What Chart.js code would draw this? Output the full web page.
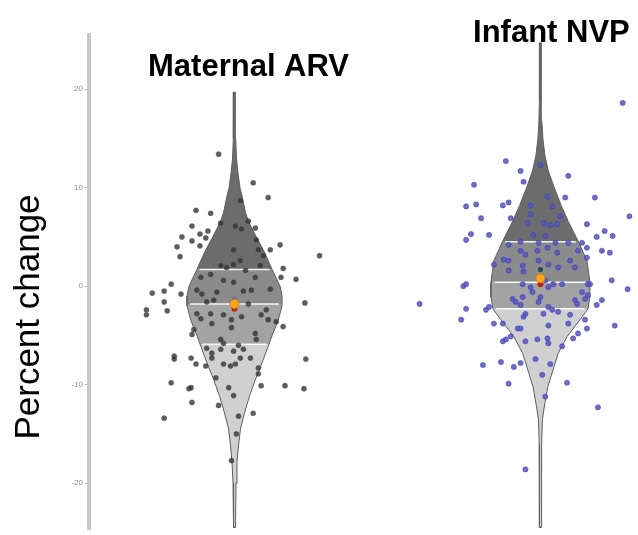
<!DOCTYPE html>
<html>
<head>
<meta charset="utf-8">
<script src="https://cdn.jsdelivr.net/npm/chart.js@4.4.1/dist/chart.umd.min.js"></script>
<style>
  html, body { margin: 0; padding: 0; background: #ffffff; }
  #wrap { width: 638px; height: 535px; position: relative; }
</style>
</head>
<body>
<div id="wrap"><canvas id="c" width="638" height="535"></canvas></div>
<script>
// ---------------- DATA ----------------
const categories = ['Maternal ARV', 'Infant NVP'];
const categoryPositions = [1, 2];
const yTicks = [20, 10, 0, -10, -20];
const yAxisTitle = 'Percent change';

// individual observations: jitter (x offset from category centre) and value
const maternalJitter = [
  -0.052,0.061,0.110,0.019,-0.126,-0.078,0.045,-0.045,-0.139,0.003,
  0.023,-0.087,-0.113,0.068,-0.172,-0.094,-0.139,0.071,-0.188,-0.113,
  0.149,0.117,-0.003,0.078,-0.178,0.278,0.019,-0.003,0.094,-0.045,
  -0.026,0.036,0.159,0.084,-0.110,-0.078,-0.036,-0.003,0.068,0.152,
  0.201,-0.207,-0.230,-0.269,-0.175,-0.123,-0.107,-0.058,0.029,0.117,
  0.055,-0.230,0.230,-0.068,-0.091,-0.288,-0.288,-0.220,-0.123,-0.110,
  -0.078,-0.074,-0.036,-0.010,0.023,0.045,0.087,0.104,0.110,0.136,
  0.159,-0.133,-0.139,-0.010,0.068,0.071,-0.045,-0.036,0.013,-0.091,
  -0.074,-0.045,-0.003,0.029,-0.197,-0.197,-0.142,-0.074,0.019,0.052,
  -0.126,-0.094,-0.036,-0.013,0.003,0.078,0.078,0.233,-0.061,-0.207,
  -0.149,-0.142,-0.019,0.087,0.165,0.227,-0.003,-0.139,-0.052,0.061,
  0.013,-0.230,0.006,-0.010
];
const maternalValues = [
  13.4,10.5,9.0,8.7,7.7,7.4,6.6,6.4,6.1,6.1,
  5.8,5.6,5.3,5.9,5.0,4.9,4.6,4.7,4.0,4.1,
  4.2,3.7,3.7,3.7,3.0,3.1,2.6,2.2,3.1,2.1,
  1.9,1.6,1.8,2.1,0.9,1.2,0.6,0.4,0.9,0.9,
  0.7,0.2,-0.5,-0.7,-0.8,-0.4,-0.8,-0.6,-0.5,-0.3,
  -0.4,-1.6,-1.7,-1.4,-1.6,-2.4,-2.9,-2.5,-2.8,-3.3,
  -2.8,-3.8,-2.9,-3.4,-3.1,-1.8,-2.9,-2.4,-3.4,-3.6,
  -4.1,-4.4,-4.9,-4.2,-4.8,-5.4,-5.4,-5.8,-6.0,-6.3,
  -6.8,-6.4,-6.6,-6.4,-7.1,-7.4,-7.3,-7.3,-7.3,-7.3,
  -7.9,-8.1,-7.9,-8.1,-7.9,-8.3,-8.9,-7.4,-9.3,-9.8,
  -10.4,-10.3,-10.3,-10.1,-10.1,-10.4,-11.1,-11.8,-12.1,-12.9,
  -13.2,-13.4,-15.0,-17.7
];
const infantJitter = [
  0.269,-0.113,-0.065,0.091,0.000,-0.055,-0.217,-0.243,-0.210,-0.123,
  -0.104,0.023,0.081,0.178,-0.032,0.039,0.291,-0.194,-0.097,-0.032,
  0.065,0.010,0.032,0.055,-0.042,0.152,-0.227,-0.243,-0.168,-0.023,
  0.016,0.210,0.236,0.184,-0.104,-0.065,-0.006,0.049,0.091,0.136,
  0.152,0.201,0.227,-0.065,-0.049,-0.010,0.023,0.055,0.123,0.152,
  -0.120,-0.104,-0.152,-0.058,-0.006,0.026,0.097,0.113,-0.104,-0.055,
  0.058,0.233,-0.252,-0.243,-0.058,0.016,0.042,0.155,-0.395,-0.243,
  -0.259,-0.178,-0.168,-0.091,-0.081,-0.058,-0.065,-0.032,-0.026,-0.006,
  0.000,0.026,0.026,0.039,0.058,0.071,-0.049,-0.055,0.010,0.097,
  0.091,0.113,0.120,0.136,0.146,0.162,0.155,0.184,0.201,
  0.285,0.146,0.152,0.123,0.107,0.243,-0.152,-0.123,-0.074,-0.065,
  0.026,-0.123,-0.113,-0.097,-0.049,-0.010,0.023,0.026,0.071,-0.188,
  -0.129,-0.087,-0.065,-0.016,0.032,0.006,-0.104,0.087,0.016,0.188,
  -0.049
];
const infantValues = [
  18.6,12.7,11.7,11.2,12.3,10.6,10.3,8.1,8.3,8.2,
  8.5,9.1,9.0,9.0,8.2,8.1,7.1,6.9,6.9,7.3,
  7.1,6.4,6.2,6.3,6.4,6.3,5.3,4.7,5.2,5.2,
  5.1,5.6,5.1,5.0,4.2,4.5,4.4,4.4,4.4,4.4,
  3.9,3.6,3.4,3.6,3.2,3.6,3.9,3.4,3.6,2.9,
  2.7,2.6,2.2,2.1,2.6,2.2,2.6,1.9,1.6,1.5,
  1.9,0.6,0.0,0.2,0.2,0.6,0.2,0.2,-1.8,-2.3,
  -3.4,-2.4,-2.1,-1.3,-1.6,-1.1,-1.9,-0.1,-0.6,-1.6,
  -1.1,-0.1,-2.1,-2.4,-2.6,0.2,-2.8,-3.1,-2.8,-2.9,
  -3.8,-1.4,-1.8,-0.6,-1.3,0.2,-0.9,-1.9,-1.4,
  -0.3,-3.4,-4.3,-4.8,-5.3,-4.0,-3.8,-3.8,-4.3,-4.3,
  -4.0,-5.6,-5.4,-5.1,-5.6,-5.4,-5.3,-5.8,-6.1,-8.0,
  -7.7,-8.2,-7.8,-7.4,-7.9,-9.0,-9.9,-9.8,-11.2,-12.3,
  -18.6
];

// violin density profiles (value levels and relative density)
const maternalDensityY = [19.7,15,13,11.5,10,9,7.5,6.6,5,3.5,1.7,0,-1,-2,-3.5,-5,-6.1,-8,-9.5,-11.2,-12.9,-14.5,-16.2,-17.9,-20,-24.5];
const maternalDensity  = [0.016,0.024,0.04,0.07,0.11,0.16,0.22,0.28,0.44,0.60,0.76,0.92,0.96,0.96,0.88,0.76,0.68,0.54,0.42,0.30,0.20,0.12,0.08,0.05,0.03,0.02];
const infantDensityY = [24.7,19,16.7,15,13.3,11.7,10,8.2,6.6,4.6,2.6,0.4,-1.1,-2.3,-3.4,-5.1,-6.8,-8.4,-10.2,-11.9,-13.5,-16,-24.5];
const infantDensity  = [0.016,0.02,0.03,0.05,0.09,0.16,0.28,0.42,0.56,0.76,0.94,1.0,1.0,0.96,0.80,0.54,0.36,0.26,0.15,0.09,0.04,0.024,0.02];

// quartiles [Q3, median, Q1] and means
const maternalQuartiles = [1.7, -1.8, -5.9];
const infantQuartiles = [4.5, 0.4, -2.3];
const groupMeans = [-1.8, 0.8];
const meanLower = [-2.3, 0.2];
const meanUpper = [-1.3, 1.7];

// ---------------- STYLE ----------------
const VIOLIN_SCALE = 50 / 309;     // density 1 -> half width in x units
const regionColors = ['#6c6c6c', '#8b8b8b', '#a3a3a3', '#d0d0d0'];
const outlineColor = '#5e5e5e';
const FONT = "'Liberation Sans', Arial, Helvetica, sans-serif";

// ---------------- BUILD ----------------
function halfWidth(profY, profD, y) {
  if (y >= profY[0]) return profD[0];
  for (let i = 0; i < profY.length - 1; i++) {
    const a = profY[i], b = profY[i + 1];
    if (y <= a && y >= b) {
      const t = (a - y) / (a - b);
      return profD[i] + t * (profD[i + 1] - profD[i]);
    }
  }
  return profD[profD.length - 1];
}
function regionPolygon(cx, profY, profD, yTop, yBot) {
  const ys = [yTop].concat(profY.filter(v => v < yTop && v > yBot), [yBot]);
  const pts = [];
  ys.forEach(y => pts.push({ x: cx - halfWidth(profY, profD, y) * VIOLIN_SCALE, y }));
  ys.slice().reverse().forEach(y => pts.push({ x: cx + halfWidth(profY, profD, y) * VIOLIN_SCALE, y }));
  pts.push(pts[0]);
  return pts;
}

const datasets = [];
const groups = [
  { cx: categoryPositions[0], py: maternalDensityY, pd: maternalDensity, q: maternalQuartiles,
    jit: maternalJitter, val: maternalValues,
    pointBg: 'rgba(48,48,48,0.78)', pointBorder: 'rgba(90,90,90,0.35)' },
  { cx: categoryPositions[1], py: infantDensityY, pd: infantDensity, q: infantQuartiles,
    jit: infantJitter, val: infantValues,
    pointBg: 'rgba(88,88,165,0.85)', pointBorder: 'rgba(50,50,255,0.5)' }
];

groups.forEach((g, gi) => {
  const top = g.py[0], bot = g.py[g.py.length - 1];
  const bounds = [top, g.q[0], g.q[1], g.q[2], bot];
  for (let r = 0; r < 4; r++) {
    datasets.push({
      data: regionPolygon(g.cx, g.py, g.pd, bounds[r], bounds[r + 1]),
      showLine: true, fill: 'shape', backgroundColor: regionColors[r],
      borderColor: 'rgba(0,0,0,0)', borderWidth: 0, pointRadius: 0, order: 10
    });
  }
  datasets.push({
    data: regionPolygon(g.cx, g.py, g.pd, top, bot),
    showLine: true, fill: false, borderColor: outlineColor, borderWidth: 1,
    pointRadius: 0, order: 8
  });
  g.q.forEach(qv => {
    const hw = halfWidth(g.py, g.pd, qv) * VIOLIN_SCALE * 0.93;
    datasets.push({
      data: [{ x: g.cx - hw, y: qv }, { x: g.cx + hw, y: qv }],
      showLine: true, fill: false, borderColor: 'rgba(255,255,255,0.9)', borderWidth: 1.5,
      pointRadius: 0, order: 7
    });
  });
  datasets.push({
    data: g.jit.map((j, i) => ({ x: g.cx + j, y: g.val[i] })),
    showLine: false, pointRadius: 2.6, pointBackgroundColor: g.pointBg,
    pointBorderColor: g.pointBorder, pointBorderWidth: 1, order: 3
  });
  datasets.push({
    data: [{ x: g.cx, y: meanUpper[gi] }],
    showLine: false, pointRadius: 2.5, pointBackgroundColor: gi === 1 ? '#1f4a5a' : 'rgba(90,110,150,0.6)',
    pointBorderWidth: 0, order: 2
  });
  datasets.push({
    data: [{ x: g.cx, y: meanLower[gi] }],
    showLine: false, pointRadius: 3, pointBackgroundColor: '#b8261c',
    pointBorderWidth: 0, order: 1
  });
  datasets.push({
    data: [{ x: g.cx, y: groupMeans[gi] }],
    showLine: false, pointRadius: 4.5, pointBackgroundColor: '#f6a81c',
    pointBorderColor: 'rgba(230,120,0,0.8)', pointBorderWidth: 1, order: 0
  });
});

const textPlugin = {
  id: 'texts',
  afterDraw(chart) {
    const ctx = chart.ctx;
    const xs = chart.scales.x;
    ctx.save();
    ctx.fillStyle = '#000';
    ctx.textAlign = 'center';
    ctx.textBaseline = 'alphabetic';
    ctx.font = 'bold 31px ' + FONT;
    ctx.fillText(categories[0], xs.getPixelForValue(categoryPositions[0]) + 14, 76);
    ctx.fillText(categories[1], xs.getPixelForValue(categoryPositions[1]) + 11, 42);
    ctx.translate(39, 317);
    ctx.rotate(-Math.PI / 2);
    ctx.font = '35px ' + FONT;
    ctx.fillText(yAxisTitle, 0, 0);
    ctx.restore();
  }
};

new Chart(document.getElementById('c'), {
  type: 'scatter',
  data: { datasets },
  plugins: [textPlugin],
  options: {
    responsive: false,
    animation: false,
    devicePixelRatio: 1,
    layout: { padding: { top: 35, left: 0, right: 0, bottom: 0 } },
    plugins: { legend: { display: false }, tooltip: { enabled: false } },
    scales: {
      x: { type: 'linear', display: false, min: 0.5243, max: 2.301 },
      y: {
        type: 'linear', min: -24.7, max: 25.5,
        afterBuildTicks(scale) { scale.ticks = yTicks.map(v => ({ value: v })); },
        afterFit(scale) { scale.width = 89; scale.paddingTop = 0; scale.paddingBottom = 0; },
        grid: { drawOnChartArea: false, drawTicks: true, tickLength: 4, color: '#b5b5b5', lineWidth: 1 },
        border: { display: true, color: '#c9c9c9', width: 4 },
        ticks: { font: { size: 8, family: FONT }, color: '#8e8e8e', padding: 2 }
      }
    }
  }
});
</script>
</body>
</html>
